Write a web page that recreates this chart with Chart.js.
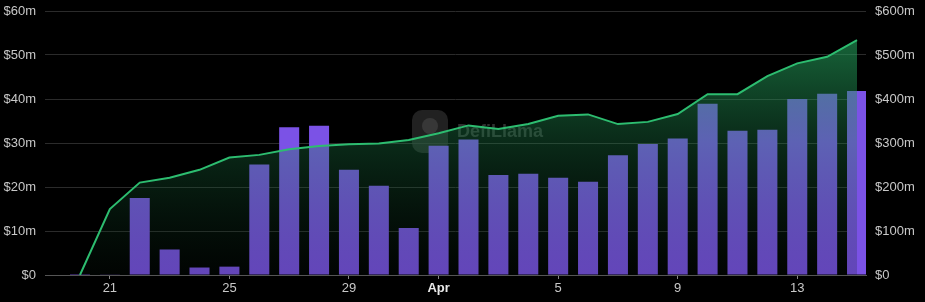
<!DOCTYPE html>
<html>
<head>
<meta charset="utf-8">
<script src="https://cdn.jsdelivr.net/npm/chart.js@4.4.1/dist/chart.umd.min.js"></script>
<style>
  html, body { margin: 0; padding: 0; background: #000; }
  #wrap { width: 925px; height: 302px; }
</style>
</head>
<body>
<div id="wrap"><canvas id="chart" width="925" height="302"></canvas></div>
<script>
// --- Data (Mar 20 -> Apr 15) ---
const days = ['Mar 20', 'Mar 21', 'Mar 22', 'Mar 23', 'Mar 24', 'Mar 25', 'Mar 26', 'Mar 27', 'Mar 28',
    'Mar 29', 'Mar 30', 'Mar 31', 'Apr 1', 'Apr 2', 'Apr 3', 'Apr 4', 'Apr 5', 'Apr 6', 'Apr 7',
    'Apr 8', 'Apr 9', 'Apr 10', 'Apr 11', 'Apr 12', 'Apr 13', 'Apr 14', 'Apr 15'];

// daily volume, $m (left axis)
const dailyVolume = [0.2, 0.15, 17.5, 5.8, 1.7, 1.9, 25.1, 33.6, 33.9, 23.9, 20.3, 10.7, 29.4, 30.8,
    22.7, 23.0, 22.1, 21.2, 27.2, 29.8, 31.0, 38.9, 32.8, 33.0, 40.0, 41.2, 41.8];

// cumulative volume, $m (right axis)
const cumulative = [0, 150, 210, 221, 239, 267, 273, 286, 293, 297, 299, 307, 322, 340, 332, 343,
    362, 365, 343, 348, 366, 411, 411, 452, 481, 496, 534];

const tickPositions = [1, 5, 9, 12, 16, 20, 24];
const tickLabels = ['21', '25', '29', 'Apr', '5', '9', '13'];

const leftTicks = [0, 10, 20, 30, 40, 50, 60];
const rightTicks = [0, 100, 200, 300, 400, 500, 600];

const fmt = (v) => v === 0 ? '$0' : `$${v}m`;

// --- Watermark ---
const watermark = {
    id: 'watermark',
    beforeDatasetsDraw(chart) {
        const ctx = chart.ctx;
        ctx.save();
        // logo blob
        ctx.fillStyle = 'rgba(55,55,55,0.6)';
        ctx.beginPath();
        ctx.roundRect(412, 110, 36, 43, 10);
        ctx.fill();
        ctx.fillStyle = 'rgba(90,90,90,0.4)';
        ctx.beginPath();
        ctx.arc(430, 126, 8, 0, Math.PI * 2);
        ctx.fill();
        // text
        ctx.fillStyle = 'rgba(120,120,120,0.4)';
        ctx.font = 'bold 18px "Liberation Sans", Arial, sans-serif';
        ctx.textBaseline = 'middle';
        ctx.fillText('DefiLlama', 457, 132);
        ctx.restore();
    }
};

const ctx = document.getElementById('chart').getContext('2d');

function fillGradient(context) {
    const area = context.chart.chartArea;
    if (!area) return 'rgba(39,174,96,0.3)';
    const g = context.chart.ctx.createLinearGradient(0, area.top, 0, area.bottom);
    g.addColorStop(0, 'rgba(40,175,100,0.68)');
    g.addColorStop(0.5, 'rgba(30,130,75,0.32)');
    g.addColorStop(1, 'rgba(5,20,10,0.2)');
    return g;
}

const yFont = { family: '"Liberation Sans", Arial, sans-serif', size: 13 };

const chart = new Chart(ctx, {
    type: 'bar',
    data: {
        datasets: [{
            type: 'line',
            label: 'Cumulative',
            data: cumulative.map((v, i) => ({ x: i, y: v })),
            yAxisID: 'y1',
            borderColor: '#2dbd70',
            borderWidth: 2,
            backgroundColor: fillGradient,
            fill: 'origin',
            tension: 0,
            pointRadius: 0,
            order: 0
        }, {
            type: 'bar',
            label: 'Volume',
            data: dailyVolume.map((v, i) => ({ x: i, y: v })),
            yAxisID: 'y',
            backgroundColor: '#7b52e6',
            barPercentage: 0.67,
            categoryPercentage: 1,
            order: 1
        }]
    },
    options: {
        responsive: false,
        animation: false,
        layout: { padding: 0 },
        plugins: {
            legend: { display: false },
            tooltip: { enabled: false }
        },
        scales: {
            x: {
                type: 'linear',
                min: -1.17,
                max: 26.3,
                offset: false,
                afterBuildTicks: (axis) => {
                    axis.ticks = tickPositions.map(v => ({ value: v }));
                },
                afterFit: (axis) => { axis.height = 27; },
                grid: {
                    offset: false,
                    drawOnChartArea: false,
                    color: '#888',
                    tickLength: 4
                },
                border: { display: true, color: '#555' },
                ticks: {
                    autoSkip: false,
                    maxRotation: 0,
                    padding: 2,
                    color: (c) => c.tick && c.tick.value === 12 ? '#e8e8e8' : '#c8c8c8',
                    font: (c) => ({
                        family: '"Liberation Sans", Arial, sans-serif',
                        size: 13,
                        weight: c.tick && c.tick.value === 12 ? 'bold' : 'normal'
                    }),
                    callback: (v) => tickLabels[tickPositions.indexOf(v)] ?? ''
                }
            },
            y: {
                position: 'left',
                min: 0,
                max: 60,
                afterBuildTicks: (axis) => {
                    axis.ticks = leftTicks.map(v => ({ value: v }));
                },
                afterFit: (axis) => {
                    axis.width = 45;
                    axis.paddingTop = 11;
                    axis.paddingBottom = 0;
                },
                grid: { color: '#2b2b2b', drawTicks: false },
                border: { display: false },
                ticks: { padding: 9, color: '#c8c8c8', font: yFont, callback: fmt }
            },
            y1: {
                position: 'right',
                min: 0,
                max: 600,
                afterBuildTicks: (axis) => {
                    axis.ticks = rightTicks.map(v => ({ value: v }));
                },
                afterFit: (axis) => {
                    axis.width = 59;
                    axis.paddingTop = 11;
                    axis.paddingBottom = 0;
                },
                grid: { display: false, drawTicks: false },
                border: { display: false },
                ticks: { padding: 9, color: '#c8c8c8', font: yFont, callback: fmt }
            }
        }
    },
    plugins: [watermark]
});
</script>
</body>
</html>
